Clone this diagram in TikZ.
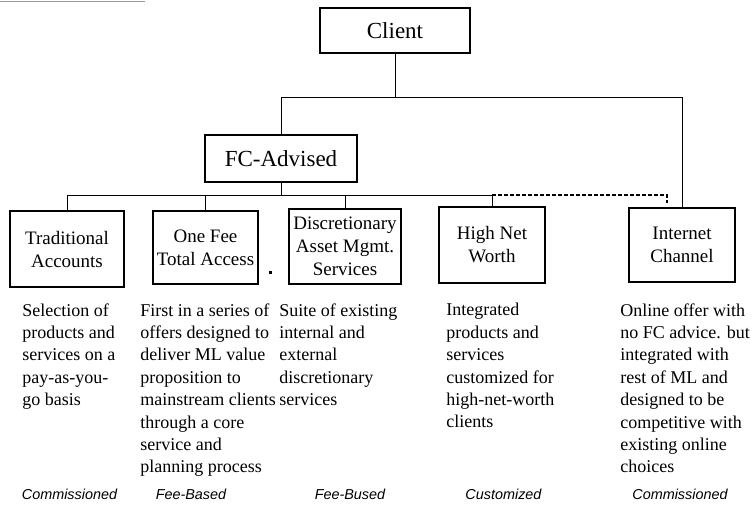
\documentclass[tikz,border=0pt]{standalone}
\usepackage{fontspec}
\setmainfont{Liberation Serif}
\newfontfamily\kindfont{Liberation Sans}
\usetikzlibrary{positioning}

\begin{document}
\begin{tikzpicture}[x=1pt, y=-1pt, line width=0.9pt,
  box/.style={draw, line width=1.1pt, align=center, inner sep=0pt, font=\fontsize{19}{23}\selectfont},
  desc/.style={anchor=north west, align=left, inner sep=0pt, font=\fontsize{18}{22.4}\selectfont, execute at begin node=\strut},
  kind/.style={anchor=base, inner sep=0pt, font=\kindfont\itshape\fontsize{14.4}{16}\selectfont}]
  \useasboundingbox (0,0) rectangle (756,506);
  \draw[black!40, line width=1.5pt] (0,1.5) -- (145,1.5);

  % Client and the two channels
  \node[box, minimum width=150, minimum height=45, font=\fontsize{23}{26}\selectfont] (client) at (395,30.5) {Client};
  \node[box, minimum width=152, minimum height=47, font=\fontsize{23}{26}\selectfont] (fc) at (281,158.5) {FC-Advised};
  \coordinate (top) at (0,97);
  \draw (client.south) -- (client.south |- top);

  % FC-advised offers
  \node[box, minimum width=114, minimum height=76] (trad) at (67,249) {Traditional\\Accounts};
  \node[box, minimum width=105, minimum height=73] (fee) at (205.5,247.5) {One Fee\\Total Access};
  \node[box, minimum width=112, minimum height=75] (dam) at (345,246.5) {Discretionary\\Asset Mgmt.\\Services};
  \node[box, minimum width=106, minimum height=76] (hnw) at (492,245) {High Net\\Worth};
  \node[box, minimum width=106, minimum height=74] (inet) at (682,245) {Internet\\Channel};
  \fill (268.5,270.5) rectangle (271.5,273.5);
  \coordinate (bus) at (0,195);

  \draw (fc.north) -- (fc.north |- top) -- (inet.north |- top) -- (inet.north);
  \draw (trad.north) -- (trad.north |- bus) -- (hnw.north |- bus) -- (hnw.north);
  \draw (fc.south) -- (fc.south |- bus);
  \draw (fee.north) -- (fee.north |- bus);
  \draw (dam.north) -- (dam.north |- bus);
  \draw[dash pattern=on 4pt off 2pt, line width=1.2pt] (hnw.north |- bus) -- ([xshift=-15pt]inet.north |- bus) -- ([xshift=-15pt, yshift=4pt]inet.north);

  % What each offer is
  \node[desc] (d1) at (22,303) {Selection of\\products and\\services on a\\pay-as-you-\\go basis};
  \node[desc] (d2) at (140,303) {First in a series of\\offers designed to\\deliver ML value\\proposition to\\mainstream clients\\through a core\\service and\\planning process};
  \node[desc] (d3) at (279,303) {Suite of existing\\internal and\\external\\discretionary\\services};
  \node[desc] (d4) at (446,303) {Integrated\\products and\\services\\customized for\\high-net-worth\\clients};
  \node[desc] (d5) at (620,303) {Online offer with\\no FC advice. but\\integrated with\\rest of ML and\\designed to be\\competitive with\\existing online\\choices};

  % Pricing
  \node[kind] (k1) at (69.5,499) {Commissioned};
  \node[kind] (k2) at (191,499) {Fee-Based};
  \node[kind] (k3) at (350,499) {Fee-Bused};
  \node[kind] (k4) at (503.5,499) {Customized};
  \node[kind] (k5) at (680,499) {Commissioned};
\end{tikzpicture}
\end{document}
